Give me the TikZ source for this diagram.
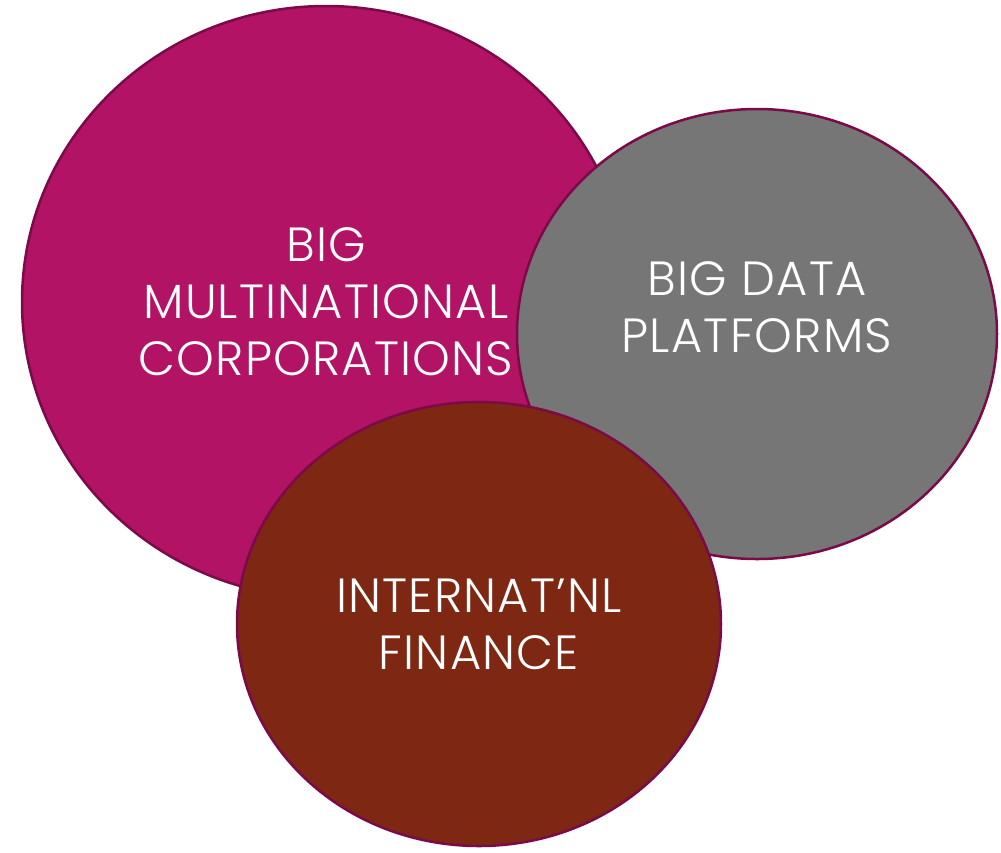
\documentclass[tikz,border=0pt]{standalone}
\usepackage{fontspec}
\setmainfont{Poppins}[UprightFont=* Light, LetterSpace=2.5]
\usepackage{tikz}
\usetikzlibrary{shapes.geometric}

\definecolor{corpmagenta}{HTML}{B21364}
\definecolor{datagrey}{HTML}{767676}
\definecolor{finbrown}{HTML}{7E2713}
\definecolor{bubbleedge}{HTML}{7A0A48}

\begin{document}
\begin{tikzpicture}[
        x=1pt, y=-1pt,
        bubble/.style={ellipse, draw=bubbleedge, line width=2.5pt, inner sep=0pt,
            text=white, align=center, font=\fontsize{48}{57}\selectfont},
        bubbletext/.style={text=white, align=center, font=\fontsize{48}{57}\selectfont}
    ]
    \useasboundingbox (0,0) rectangle (1001,852);

    % Big corporations (back)
    \node[bubble, fill=corpmagenta, minimum width=608pt, minimum height=592pt] (corp) at (326,302)
        {BIG\\MULTINATIONAL\\CORPORATIONS};
    % Big data (middle), text sits above its centre
    \node[bubble, fill=datagrey, minimum width=480pt, minimum height=450pt] (data) at (757,334) {};
    \node[bubbletext] (datatext) at ([yshift=27pt]data.center) {BIG DATA\\PLATFORMS};
    % Finance (front)
    \node[bubble, fill=finbrown, minimum width=484pt, minimum height=444pt] (fin) at (479,624)
        {INTERNAT’NL\\FINANCE};

\end{tikzpicture}
\end{document}
